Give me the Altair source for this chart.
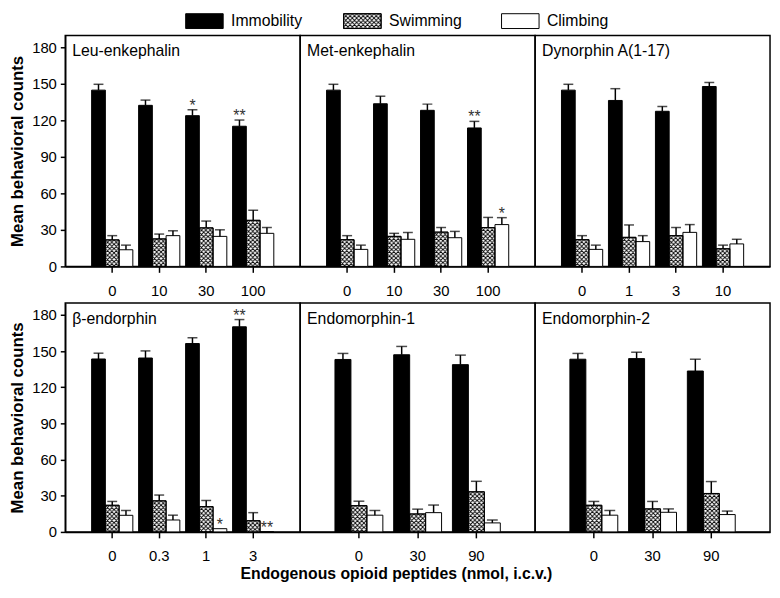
import base64
import altair as alt
import pandas as pd

# ---------------- data ----------------
series = ["Immobility", "Swimming", "Climbing"]
panel_names = ["Leu-enkephalin", "Met-enkephalin", "Dynorphin A(1-17)",
               "β-endorphin", "Endomorphin-1", "Endomorphin-2"]
doses = [["0", "10", "30", "100"], ["0", "10", "30", "100"], ["0", "1", "3", "10"],
         ["0", "0.3", "1", "3"], ["0", "30", "90"], ["0", "30", "90"]]

immobility = [[145, 132.5, 124, 115.3], [145, 133.8, 128.4, 113.9], [145, 136.5, 127.6, 148],
              [143.5, 144.3, 156.3, 170.2], [143.1, 147, 138.8], [143.3, 143.8, 133.5]]
immobility_sem = [[4.8, 4.3, 4.9, 5.1], [4.8, 6.2, 5.1, 5.4], [4.8, 9.7, 4, 3.3],
                  [4.8, 5.9, 4.8, 6], [5, 6.9, 7.9], [4.8, 5.3, 9.8]]
swimming = [[21.8, 22.6, 31.7, 37.9], [22, 24.7, 28.2, 32], [22, 23.9, 25.3, 14.5],
            [22.1, 25.8, 21, 9.3], [21.8, 14.9, 33.3], [22.1, 19.1, 31.9]]
swimming_sem = [[3.5, 4, 5.6, 8.3], [3.3, 2.5, 3.8, 8.3], [3.3, 10.2, 6.7, 3],
                [3.2, 4.8, 5.1, 6.7], [3.7, 4, 8.7], [3.2, 6.2, 9.9]]
climbing = [[13.7, 25.3, 24.7, 27.2], [14, 22.3, 23.6, 34.4], [14, 20.4, 28, 18.5],
            [13.8, 9.9, 2.7, 0], [13.9, 16, 7.5], [13.9, 16.3, 14.4]]
climbing_sem = [[3.8, 4, 5.4, 4.8], [3.5, 5.6, 5.2, 5.7], [3.5, 4.9, 6.4, 3.8],
                [4, 4, 0, 0], [3.9, 6.3, 2.4], [3.9, 2.8, 2.9]]

immobility_sig = [["", "", "*", "**"], ["", "", "", "**"], ["", "", "", ""],
                  ["", "", "", "**"], ["", "", ""], ["", "", ""]]
swimming_sig = [["", "", "", ""], ["", "", "", ""], ["", "", "", ""],
                ["", "", "", ""], ["", "", ""], ["", "", ""]]
climbing_sig = [["", "", "", ""], ["", "", "", "*"], ["", "", "", ""],
                ["", "", "*", "**"], ["", "", ""], ["", "", ""]]

y_ticks = [0, 30, 60, 90, 120, 150, 180]
y_title = "Mean behavioral counts"
x_title = "Endogenous opioid peptides (nmol, i.c.v.)"

# ---------------- layout / style ----------------
FONT = "Liberation Sans"
PANEL_W = 238
ROW_H = [234, 232]
Y_MAX = 190
LEG_H = 17
BAR_PAD = {4: 0.21, 3: 0.34}
FILLS = ["black", "white", "white"]


def hatch_url(w, h, cell=4.4):
    svg = (f"<svg xmlns='http://www.w3.org/2000/svg' width='{w:.3f}' height='{h}'>"
           f"<defs><pattern id='p' width='{cell}' height='{cell}' patternUnits='userSpaceOnUse'>"
           f"<path d='M0,0L{cell},{cell}M{cell},0L0,{cell}' stroke='#000' stroke-width='0.9' "
           "stroke-linecap='square'/></pattern></defs>"
           f"<rect width='{w:.3f}' height='{h}' fill='url(#p)'/></svg>")
    return "data:image/svg+xml;base64," + base64.b64encode(svg.encode()).decode()


fill_enc = alt.Fill("series:N", scale=alt.Scale(domain=series, range=FILLS), legend=None)


def make_panel(i, row):
    n = len(doses[i])
    recs = []
    for j, d in enumerate(doses[i]):
        for s, v, e, g in (("Immobility", immobility[i][j], immobility_sem[i][j], immobility_sig[i][j]),
                           ("Swimming", swimming[i][j], swimming_sem[i][j], swimming_sig[i][j]),
                           ("Climbing", climbing[i][j], climbing_sem[i][j], climbing_sig[i][j])):
            recs.append(dict(dose=d, series=s, value=v, top=v + e, sem=e, sig=g))
    df = pd.DataFrame(recs)

    step = PANEL_W / (n + 1)
    pad = BAR_PAD[n]
    bw = step / (3 + 2 * pad)

    x = alt.X("dose:N", sort=doses[i], title=None,
              scale=alt.Scale(paddingInner=0, paddingOuter=0.5),
              axis=alt.Axis(labelAngle=0, tickSize=6, labelPadding=11))
    xo = alt.XOffset("series:N", sort=series,
                     scale=alt.Scale(paddingInner=0, paddingOuter=pad))
    ys = alt.Scale(domain=[0, Y_MAX], nice=False)
    if i % 3 == 0:
        yaxis = alt.Axis(values=y_ticks, grid=False, tickSize=5, labelPadding=4, titlePadding=5)
        yv = alt.Y("value:Q", scale=ys, axis=yaxis, title=y_title)
        yt = alt.Y("top:Q", scale=ys, axis=yaxis, title=y_title)
    else:
        yv = alt.Y("value:Q", scale=ys, axis=None)
        yt = alt.Y("top:Q", scale=ys, axis=None)

    base = alt.Chart(df)
    swim = alt.datum.series == "Swimming"
    bars = base.mark_bar(stroke="black", strokeWidth=1).encode(x=x, xOffset=xo, y=yv, fill=fill_enc)
    hatch = base.transform_filter(swim).mark_image(
        width=bw, height=400, baseline="top", aspect=False, clip=True
    ).encode(x=x, xOffset=xo, y=yv, url=alt.value(hatch_url(bw, 400)))
    outline = base.transform_filter(swim).mark_bar(
        fillOpacity=0, stroke="black", strokeWidth=1
    ).encode(x=x, xOffset=xo, y=yv)
    err = base.transform_filter(alt.datum.sem > 0).mark_rule(
        color="black", strokeWidth=1.5
    ).encode(x=x, xOffset=xo, y=yv, y2="top:Q")
    caps = base.transform_filter(alt.datum.sem > 0).mark_tick(
        orient="horizontal", size=round(bw * 0.7), thickness=1.5, color="black"
    ).encode(x=x, xOffset=xo, y=yt)
    stars = base.transform_filter(alt.datum.sig != "").mark_text(
        baseline="alphabetic", dy=1, fontSize=16, color="#333"
    ).encode(x=x, xOffset=xo, y=yt, text="sig:N")
    label = alt.Chart(pd.DataFrame({"name": [panel_names[i]]})).mark_text(
        align="left", baseline="middle", fontSize=16, color="black"
    ).encode(x=alt.value(7), y=alt.value(16), text="name:N")

    return alt.layer(bars, hatch, outline, err, caps, stars, label).properties(
        width=PANEL_W, height=ROW_H[row])


# ---------------- legend (custom, so the swatch can carry the cross-hatch) ----------------
Wt = 3 * PANEL_W
leg_step = 160
leg_po = (Wt / leg_step - 3) / 2
leg_align = 122 / (Wt - 3 * leg_step)
legend_df = pd.DataFrame({"series": series})
lx = alt.X("series:N", sort=series, axis=None,
           scale=alt.Scale(paddingInner=0, paddingOuter=leg_po, align=leg_align))
lbase = alt.Chart(legend_df)
sw = lbase.mark_rect(width=38, xOffset=-61, stroke="black", strokeWidth=1).encode(
    x=lx, y=alt.value(0), y2=alt.value(15), fill=fill_enc)
sw_hatch = lbase.transform_filter(alt.datum.series == "Swimming").mark_image(
    width=38, height=15, xOffset=-61, baseline="top", aspect=False
).encode(x=lx, y=alt.value(0), url=alt.value(hatch_url(38, 15)))
sw_out = lbase.transform_filter(alt.datum.series == "Swimming").mark_rect(
    width=38, xOffset=-61, fillOpacity=0, stroke="black", strokeWidth=1
).encode(x=lx, y=alt.value(0), y2=alt.value(15))
sw_txt = lbase.mark_text(align="left", baseline="middle", dx=-34, fontSize=16, color="black").encode(
    x=lx, y=alt.value(7.5), text="series:N")
legend = alt.layer(sw, sw_hatch, sw_out, sw_txt).properties(
    width=Wt, height=LEG_H, view=alt.ViewBackground(stroke="transparent"))

row1 = alt.hconcat(*[make_panel(i, 0) for i in range(3)], spacing=0, bounds="flush").resolve_scale(
    xOffset="independent")
row2 = alt.hconcat(*[make_panel(i, 1) for i in range(3, 6)], spacing=0, bounds="flush").resolve_scale(
    xOffset="independent")

chart = alt.vconcat(legend, row1, row2, spacing=3, bounds="full").resolve_scale(
    xOffset="independent"
).properties(
    title=alt.TitleParams(x_title, orient="bottom", offset=2, dx=7, fontSize=16,
                          fontWeight="bold", font=FONT, anchor="middle", color="black"),
    padding={"left": 0, "top": 0, "right": 1, "bottom": 1},
).configure_view(
    stroke="black", strokeWidth=1.5
).configure_axis(
    labelFont=FONT, titleFont=FONT, labelColor="black", titleColor="black",
    domainColor="black", tickColor="black", domainWidth=1.5, tickWidth=1.5,
    labelFontSize=15, titleFontSize=17, titleFontWeight="bold"
).configure_text(font=FONT)

chart.save("out.html", embed_options={"renderer": "svg", "actions": False})
